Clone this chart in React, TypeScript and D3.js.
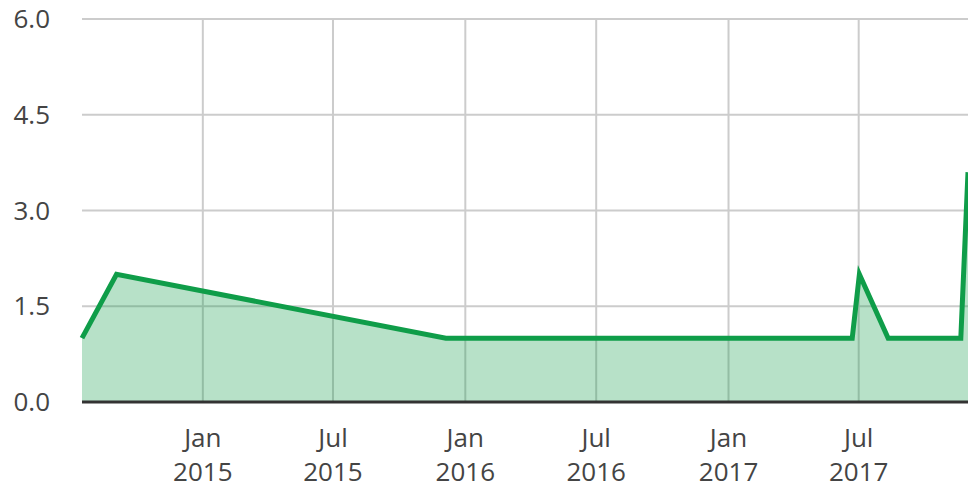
import React, { useEffect, useRef } from 'react';
import * as d3 from 'd3';

// daily values
const dates = ['2014-07-17', '2014-09-03', '2015-12-05', '2017-06-22', '2017-07-02', '2017-08-11', '2017-11-20', '2017-11-30'];
const values = [1, 2, 1, 1, 2, 1, 1, 3.6];
const yTicks = [0, 1.5, 3, 4.5, 6];
const xTickDates = ['2015-01-01', '2015-07-01', '2016-01-01', '2016-07-01', '2017-01-01', '2017-07-01'];

const GREEN = '#0f9d49';

const App = () => {
  const ref = useRef<SVGSVGElement | null>(null);

  useEffect(() => {
    if (!ref.current) return;
    const svg = d3.select(ref.current);
    svg.selectAll('*').remove();

    const width = 968, height = 488;
    const left = 82, right = 968, top = 19, bottom = 402;
    const parse = d3.utcParse('%Y-%m-%d');
    const data = dates.map((d, i) => ({ date: parse(d) as Date, value: values[i] }));

    const x = d3.scaleUtc()
      .domain(d3.extent(data, d => d.date) as [Date, Date])
      .range([left, right]);
    const y = d3.scaleLinear().domain([0, 6]).range([bottom, top]);

    svg.attr('width', width).attr('height', height);

    // horizontal grid
    svg.append('g')
      .selectAll('line')
      .data(yTicks)
      .enter()
      .append('line')
      .attr('x1', left).attr('x2', width)
      .attr('y1', d => y(d)).attr('y2', d => y(d))
      .attr('stroke', '#cccccc').attr('stroke-width', 2);

    // vertical grid
    const xt = xTickDates.map(d => parse(d) as Date);
    svg.append('g')
      .selectAll('line')
      .data(xt)
      .enter()
      .append('line')
      .attr('x1', d => x(d)).attr('x2', d => x(d))
      .attr('y1', top).attr('y2', bottom)
      .attr('stroke', '#cccccc').attr('stroke-width', 2);

    const area = d3.area<{ date: Date; value: number }>()
      .x(d => x(d.date)).y0(y(0)).y1(d => y(d.value));
    const line = d3.line<{ date: Date; value: number }>()
      .x(d => x(d.date)).y(d => y(d.value));

    svg.append('path')
      .datum(data)
      .attr('d', area)
      .attr('fill', GREEN)
      .attr('fill-opacity', 0.3);

    svg.append('path')
      .datum(data)
      .attr('d', line)
      .attr('fill', 'none')
      .attr('stroke', GREEN)
      .attr('stroke-width', 5)
      .attr('stroke-linejoin', 'miter');

    // baseline
    svg.append('line')
      .attr('x1', left).attr('x2', width)
      .attr('y1', bottom).attr('y2', bottom)
      .attr('stroke', '#333333').attr('stroke-width', 3);

    // y labels
    svg.append('g')
      .selectAll('text')
      .data(yTicks)
      .enter()
      .append('text')
      .attr('x', 50)
      .attr('y', d => y(d))
      .attr('dy', '0.35em')
      .attr('text-anchor', 'end')
      .attr('font-family', '"Open Sans", sans-serif')
      .attr('font-size', 26)
      .attr('fill', '#444444')
      .text(d => d3.format('.1f')(d));

    // x labels
    const fmtM = d3.utcFormat('%b');
    const fmtY = d3.utcFormat('%Y');
    const xl = svg.append('g')
      .selectAll('text')
      .data(xt)
      .enter()
      .append('text')
      .attr('text-anchor', 'middle')
      .attr('font-family', '"Open Sans", sans-serif')
      .attr('font-size', 26)
      .attr('fill', '#444444');
    xl.append('tspan').attr('x', d => x(d)).attr('y', 447).text(d => fmtM(d));
    xl.append('tspan').attr('x', d => x(d)).attr('y', 481).text(d => fmtY(d));
  }, []);

  return (
    <div style={{ position: 'absolute', left: 0, top: 0 }}>
      <svg ref={ref} style={{ display: 'block' }}></svg>
    </div>
  );
};

export default App;
